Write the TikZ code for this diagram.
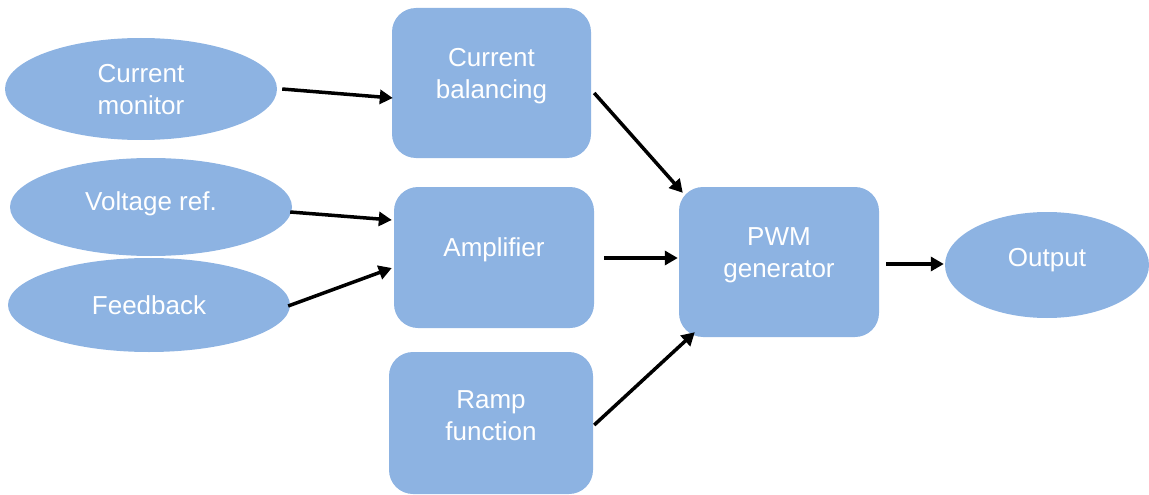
\documentclass[tikz,border=0pt]{standalone}
\usepackage{fontspec}
\setmainfont{Liberation Sans}
\usetikzlibrary{shapes.geometric,arrows.meta}
\definecolor{boxblue}{HTML}{8DB3E2}
\begin{document}
\begin{tikzpicture}[x=1pt,y=-1pt,
  blk/.style={rectangle, rounded corners=24pt, fill=boxblue, draw=none, inner sep=0pt},
  ell/.style={ellipse, fill=boxblue, draw=none, inner sep=0pt},
  txt/.style={font=\fontsize{26}{32}\selectfont, text=white, align=center, inner sep=0pt},
  arr/.style={line width=3.5pt, draw=black, -{Triangle[length=13pt,width=14pt]}}]
\useasboundingbox (0,0) rectangle (1149,495);
% ellipses
\node[ell, minimum width=272pt, minimum height=102pt, label={[txt,yshift=-1pt]center:Current\\monitor}] (cm) at (141,89) {};
\node[ell, minimum width=282pt, minimum height=98pt, label={[txt,yshift=3pt]center:Voltage ref.}] (vr) at (151,207) {};
\node[ell, minimum width=282pt, minimum height=94pt, label={[txt]center:Feedback}] (fb) at (149,305) {};
\node[ell, minimum width=204pt, minimum height=106pt, label={[txt,yshift=5pt]center:Output}] (out) at (1047,265) {};
% boxes
\node[blk, minimum width=199pt, minimum height=150pt, label={[txt,yshift=7pt]center:Current\\balancing}] (cb) at (491.5,83) {};
\node[blk, minimum width=200pt, minimum height=141pt, label={[txt,yshift=8pt]center:Amplifier}] (amp) at (494,257.5) {};
\node[blk, minimum width=204pt, minimum height=142pt, label={[txt,yshift=7.5pt]center:Ramp\\function}] (ramp) at (491,423) {};
\node[blk, minimum width=200pt, minimum height=150pt, label={[txt,yshift=7pt]center:PWM\\generator}] (pwm) at (779,262) {};
% arrows
\draw[arr] ([shift={(5,0)}]cm.east) -- ([shift={(1,15)}]cb.west);
\draw[arr] ([shift={(3,10)}]cb.east) -- ([shift={(4,6)}]pwm.north west);
\draw[arr] ([shift={(-2,5)}]vr.east) -- ([shift={(-2,-37.5)}]amp.west);
\draw[arr] ([shift={(-2,1)}]fb.east) -- ([shift={(-2,10.5)}]amp.west);
\draw[arr] ([shift={(10,0.5)}]amp.east) -- ([shift={(-1,-4)}]pwm.west);
\draw[arr] ([shift={(1,2)}]ramp.east) -- ([shift={(16,-5)}]pwm.south west);
\draw[arr] ([shift={(7,2)}]pwm.east) -- ([shift={(-1,-1)}]out.west);
\end{tikzpicture}
\end{document}
